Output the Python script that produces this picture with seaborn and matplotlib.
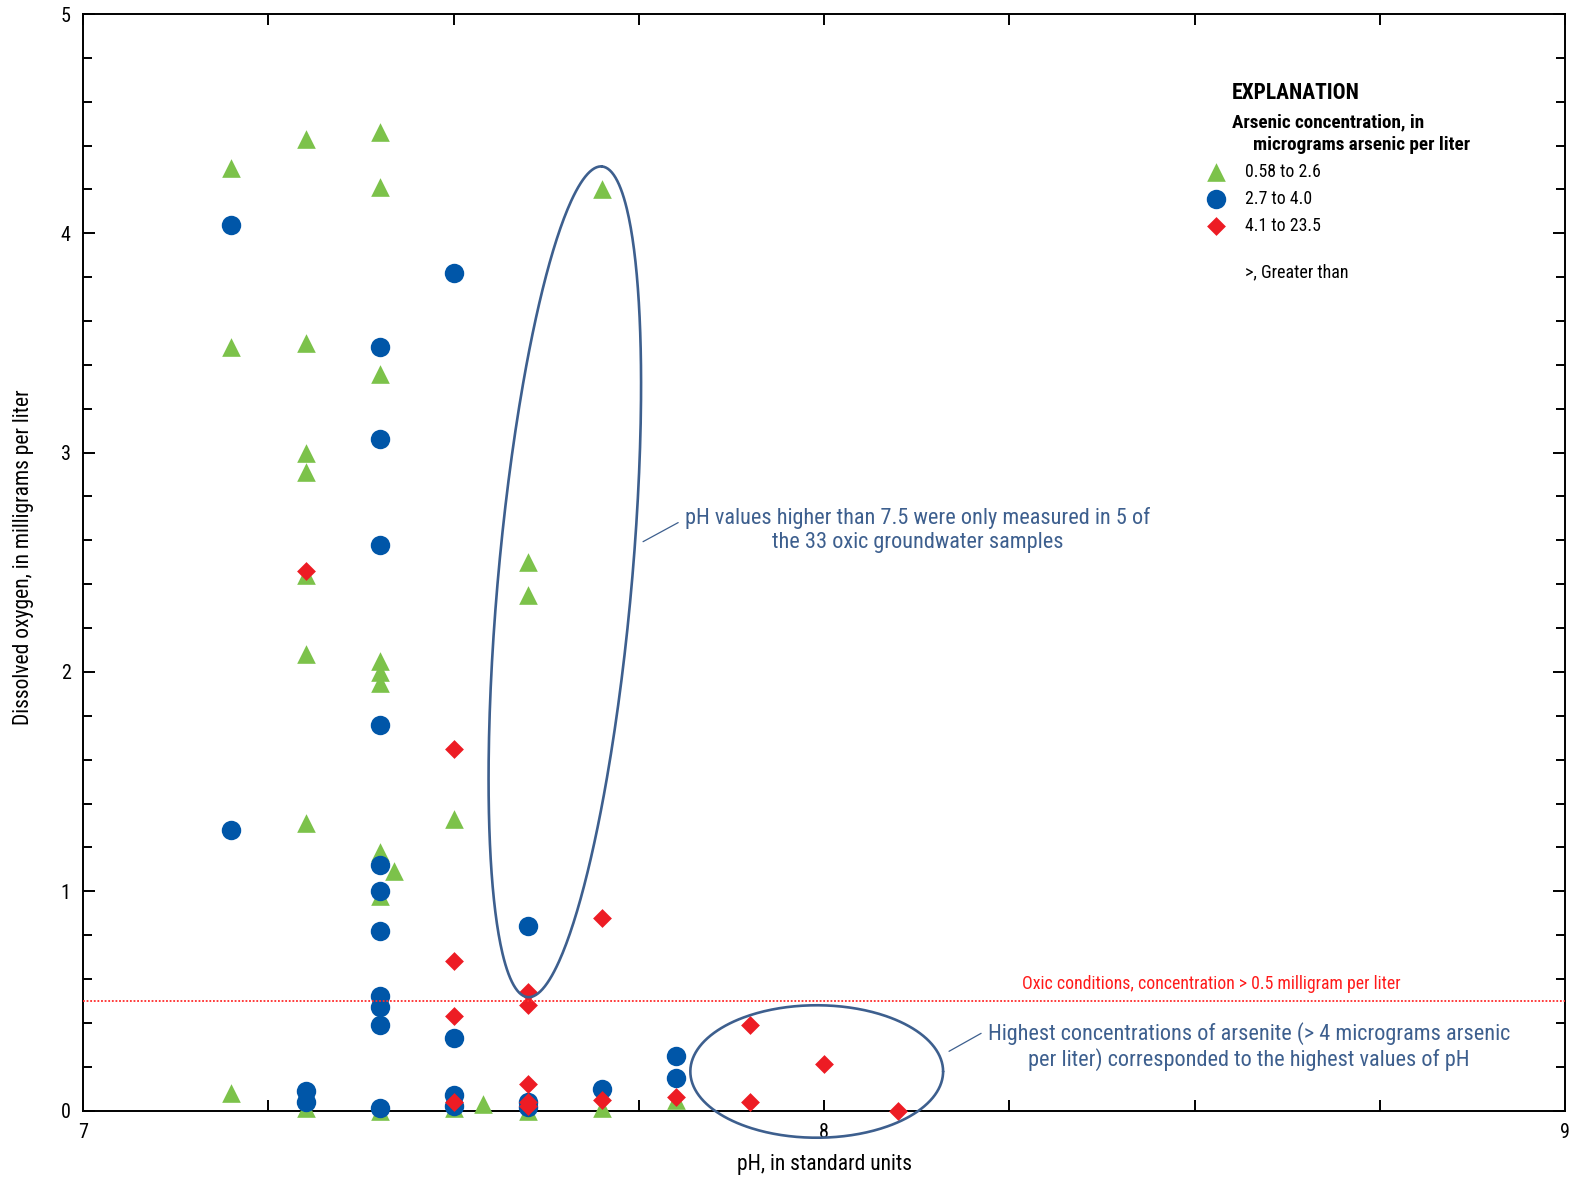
import numpy as np
import pandas as pd
import matplotlib
matplotlib.use("Agg")
import matplotlib.pyplot as plt
from matplotlib import font_manager
from matplotlib.ticker import MultipleLocator, FixedLocator
import seaborn as sns

# ---- data: pH and dissolved oxygen (mg/L), grouped by arsenic class ----
low_ph = [7.2, 7.2, 7.2,
          7.3, 7.3, 7.3, 7.3, 7.3, 7.3, 7.3, 7.3,
          7.4, 7.4, 7.4, 7.4, 7.4, 7.4, 7.4, 7.4, 7.4,
          7.42,
          7.5, 7.5,
          7.54,
          7.6, 7.6, 7.6,
          7.7, 7.7,
          7.8]
low_do = [4.30, 3.48, 0.08,
          4.43, 3.50, 3.00, 2.91, 2.44, 2.08, 1.31, 0.01,
          4.46, 4.21, 3.36, 2.05, 2.00, 1.95, 1.18, 0.98, 0.00,
          1.09,
          1.33, 0.01,
          0.03,
          2.50, 2.35, 0.00,
          4.20, 0.01,
          0.05]

mid_ph = [7.2, 7.2,
          7.3, 7.3,
          7.4, 7.4, 7.4, 7.4, 7.4, 7.4, 7.4, 7.4, 7.4, 7.4, 7.4,
          7.5, 7.5, 7.5, 7.5,
          7.6, 7.6, 7.6,
          7.7,
          7.8, 7.8]
mid_do = [4.04, 1.28,
          0.09, 0.04,
          3.48, 3.06, 2.58, 1.76, 1.12, 1.00, 0.82, 0.52, 0.47, 0.39, 0.01,
          3.82, 0.33, 0.07, 0.02,
          0.84, 0.04, 0.015,
          0.10,
          0.25, 0.15]

high_ph = [7.3,
           7.5, 7.5, 7.5, 7.5,
           7.6, 7.6, 7.6, 7.6, 7.6,
           7.7, 7.7,
           7.8,
           7.9, 7.9,
           8.0,
           8.1]
high_do = [2.46,
           1.65, 0.68, 0.43, 0.04,
           0.54, 0.48, 0.12, 0.04, 0.02,
           0.88, 0.05,
           0.06,
           0.39, 0.04,
           0.21,
           0.00]

class_labels = ["0.58 to 2.6", "2.7 to 4.0", "4.1 to 23.5"]
oxic_threshold = 0.5
x_ticks = [7, 8, 9]
y_ticks = [0, 1, 2, 3, 4, 5]

# ---- style ----
W, H = 1573, 1177
S = 1573 / 1568  # layout grid below is laid out on a 1568-wide sheet


def pick_family():
    for fam in ["Liberation Sans Narrow", "Roboto Condensed", "Open Sans Condensed",
                "Liberation Sans", "DejaVu Sans"]:
        try:
            font_manager.findfont(font_manager.FontProperties(family=fam),
                                  fallback_to_default=False)
            return fam
        except Exception:
            continue
    return "DejaVu Sans"


sns.set_theme(style="white")
FAM = pick_family()
plt.rcParams["font.family"] = [FAM, "DejaVu Sans"]
plt.rcParams["axes.linewidth"] = 1.4

GREEN = "#7cc24a"
BLUE = "#0056a8"
RED = "#ed1c24"
NAVY = "#3d5f8e"


def fx(px):
    return px * S / W


def fy(py):
    return 1 - py * S / H


fig = plt.figure(figsize=(W / 100, H / 100), dpi=100)
ax = fig.add_axes([fx(83), fy(1107), fx(1560) - fx(83), fy(14) - fy(1107)])

df_low = pd.DataFrame({"pH": low_ph, "DO": low_do})
df_mid = pd.DataFrame({"pH": mid_ph, "DO": mid_do})
df_high = pd.DataFrame({"pH": high_ph, "DO": high_do})

sns.scatterplot(data=df_low, x="pH", y="DO", marker="^", s=180, color=GREEN,
                linewidth=0, ax=ax, zorder=3, clip_on=False, label=class_labels[0])
sns.scatterplot(data=df_mid, x="pH", y="DO", marker="o", s=196, color=BLUE,
                linewidth=0, ax=ax, zorder=4, clip_on=False, label=class_labels[1])
sns.scatterplot(data=df_high, x="pH", y="DO", marker="D", s=92, color=RED,
                linewidth=0, ax=ax, zorder=5, clip_on=False, label=class_labels[2])

# oxic threshold
ax.axhline(oxic_threshold, color="#ff2a2a", lw=1.3, ls=(0, (1, 1)), zorder=6)

ax.set_xlim(7, 9)
ax.set_ylim(0, 5)

# ticks: inward on all four sides
ax.xaxis.set_major_locator(FixedLocator(x_ticks))
ax.xaxis.set_minor_locator(MultipleLocator(0.25))
ax.yaxis.set_major_locator(FixedLocator(y_ticks))
ax.yaxis.set_minor_locator(MultipleLocator(0.2))
ax.tick_params(axis="both", which="both", direction="in", top=True, right=True,
               bottom=True, left=True, color="black", width=1.4,
               labelsize=14.5, labelcolor="black")
ax.tick_params(axis="x", which="both", length=8, pad=9)
ax.tick_params(axis="y", which="major", length=8.6, pad=9)
ax.tick_params(axis="y", which="minor", length=6.5)
ax.set_xticklabels([str(v) for v in x_ticks])
ax.set_yticklabels([str(v) for v in y_ticks])
for s in ax.spines.values():
    s.set_color("black")
    s.set_linewidth(1.4)

ax.set_xlabel("pH, in standard units", fontsize=15.5, color="black")
ax.set_ylabel("Dissolved oxygen, in milligrams per liter", fontsize=15.5, color="black")
ax.xaxis.set_label_coords((822 - 83) / 1477, (1107 - 1150) / 1093)
ax.yaxis.set_label_coords((34 - 83) / 1477, (1107 - 555) / 1093)


# ---- annotation ellipses and leaders (drawn in data coordinates) ----
def ellipse(cx, cy, ax_vec, b_vec, n=400):
    t = np.linspace(0, 2 * np.pi, n)
    xs = cx + ax_vec[0] * np.cos(t) + b_vec[0] * np.sin(t)
    ys = cy + ax_vec[1] * np.cos(t) + b_vec[1] * np.sin(t)
    ax.plot(xs, ys, color=NAVY, lw=1.9, zorder=7, clip_on=False)


ellipse(7.650, 2.411, (0.0501, 1.894), (0.0899, -0.027))
ellipse(7.990, 0.178, (0.1706, 0.0), (0.0, 0.302))

ax.plot([7.7556, 7.803], [2.594, 2.681], color=NAVY, lw=0.9, zorder=7)
ax.plot([8.1686, 8.2119], [0.270, 0.352], color=NAVY, lw=0.9, zorder=7)

fig.text(fx(915), fy(528), "pH values higher than 7.5 were only measured in 5 of\n"
         "the 33 oxic groundwater samples", ha="center", va="center",
         fontsize=16, color=NAVY, linespacing=1.2)
fig.text(fx(1245), fy(1043), "Highest concentrations of arsenite (> 4 micrograms arsenic\n"
         "per liter) corresponded to the highest values of pH", ha="center",
         va="center", fontsize=16, color=NAVY, linespacing=1.2)
fig.text(fx(1207), fy(981), "Oxic conditions, concentration > 0.5 milligram per liter",
         ha="center", va="center", fontsize=12.8, color="#ff1a1a")

# ---- explanation block ----
fig.text(fx(1228), fy(93), "EXPLANATION", ha="left", va="center",
         fontsize=15.5, fontweight="bold", color="black")
fig.text(fx(1228), fy(122), "Arsenic concentration, in", ha="left", va="center",
         fontsize=13.8, fontweight="bold", color="black")
fig.text(fx(1249), fy(145), "micrograms arsenic per liter", ha="left", va="center",
         fontsize=13.8, fontweight="bold", color="black")
fig.text(fx(1241), fy(271), ">, Greater than", ha="left", va="center",
         fontsize=13, color="black")

leg_fs = 12.8
fs_px = leg_fs * 100 / 72
leg = ax.legend(loc="upper left", bbox_to_anchor=(fx(1201.5), fy(162)),
                bbox_transform=fig.transFigure, frameon=False, fontsize=leg_fs,
                borderaxespad=0, borderpad=0, handlelength=1.2,
                handletextpad=(1241 * S - 1201.5 * S - 1.2 * fs_px) / fs_px,
                labelspacing=0.52, markerscale=1.0)
for t in leg.get_texts():
    t.set_color("black")

fig.savefig("out.png", dpi=100, facecolor="white")
